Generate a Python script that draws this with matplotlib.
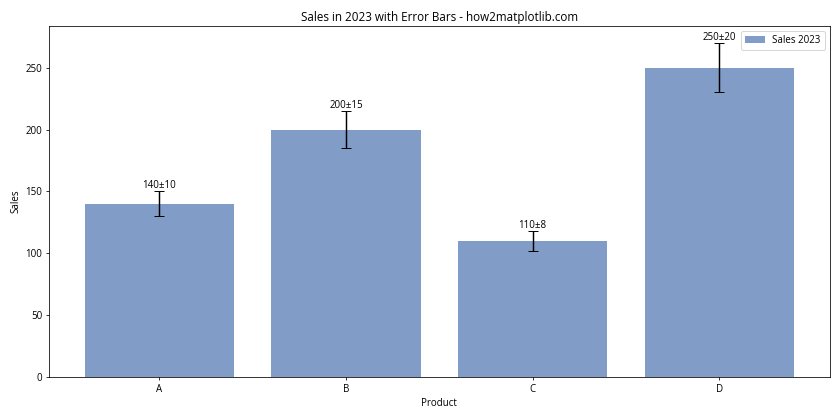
import matplotlib.pyplot as plt

plt.rcParams['font.family'] = ['Open Sans', 'DejaVu Sans']

products = ['A', 'B', 'C', 'D']
sales = [140, 200, 110, 250]
errors = [10, 15, 8, 20]

fig, ax = plt.subplots(figsize=(12, 6), dpi=70)
bars = ax.bar(products, sales, yerr=errors, capsize=5, color='#4C72B0', alpha=0.7,
              label='Sales 2023')

for bar, s, e in zip(bars, sales, errors):
    ax.text(bar.get_x() + bar.get_width() / 2, s + e, f'{s}±{e}',
            ha='center', va='bottom', fontsize=10)

ax.set_title('Sales in 2023 with Error Bars - how2matplotlib.com', fontsize=12)
ax.set_xlabel('Product', fontsize=10)
ax.set_ylabel('Sales', fontsize=10)
ax.legend(fontsize=10)
plt.tight_layout()
plt.savefig('out.png')
